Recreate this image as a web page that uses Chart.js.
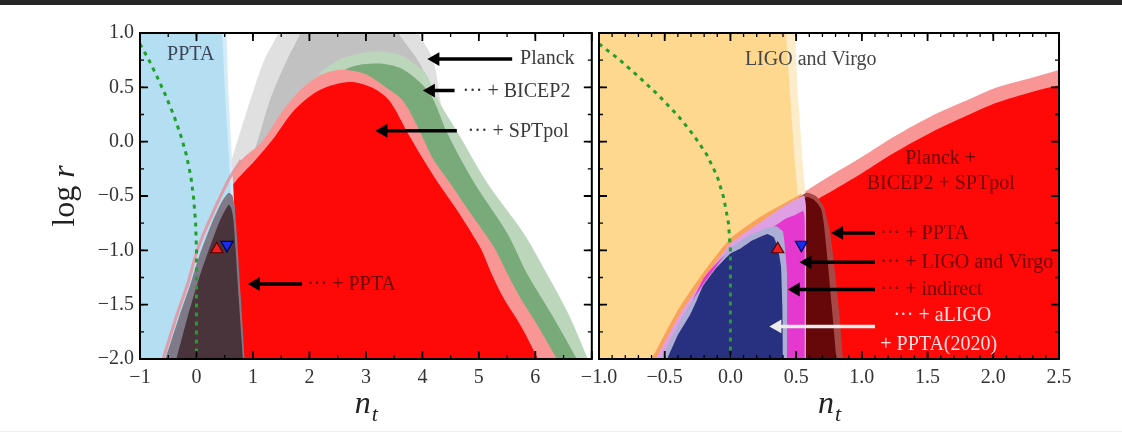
<!DOCTYPE html>
<html lang="en">
<head>
<meta charset="UTF-8">
<title>log r versus n_t</title>
<style>
  html, body { margin: 0; padding: 0; background: #fff; }
  body { position: relative; width: 1122px; height: 440px; overflow: hidden; }
  #topBar { position: absolute; left: 0; top: 0; width: 1122px; height: 5px; background: #262626; }
  #bottomRule { position: absolute; left: 0; top: 431px; width: 1122px; height: 1px; background: #ededed; }
  canvas { position: absolute; top: 0; }
  #leftPanel { left: 0; }
  #rightPanel { left: 560px; }
</style>
<script src="https://cdn.jsdelivr.net/npm/chart.js"></script>
</head>
<body>
<div id="topBar"></div>
<div id="bottomRule"></div>
<canvas id="leftPanel" width="600" height="440"></canvas>
<canvas id="rightPanel" width="562" height="440"></canvas>
<script>
const serif = '"Liberation Serif", "Times New Roman", serif';

// ---------- left panel (-1 < n_t < 7) ----------
// Planck alone (2 sigma / 1 sigma)
const grayOuterX = [-0.75, 0.2, 0.45, 0.62, 0.97, 1.2, 1.45, 1.6, 3.8, 3.93, 4.17, 4.25, 4.28, 4.35, 4.55, 5.0, 5.6, 6.3];
const grayOuterY = [-2.05, -1.0, -0.45, -0.17, 0.41, 0.75, 1.0, 1.2, 1.2, 1.0, 0.78, 0.62, 0.5, 0.3, 0.0, -0.5, -1.2, -2.05];
const grayInnerX = [-0.1, 0.5, 0.95, 1.09, 1.32, 1.6, 1.84, 1.95, 3.45, 3.58, 3.88, 4.02, 4.1, 4.4, 5.0, 5.8];
const grayInnerY = [-2.05, -0.8, -0.2, 0.02, 0.41, 0.75, 1.0, 1.2, 1.2, 1.0, 0.78, 0.65, 0.45, -0.1, -1.0, -2.05];
// + BICEP2
const greenOuterX = [0.8, 1.7, 2.19, 2.6, 3.13, 3.6, 3.9, 4.06, 4.28, 4.63, 5.15, 5.79, 6.2, 6.6, 6.97];
const greenOuterY = [-2.05, 0.3, 0.63, 0.77, 0.83, 0.8, 0.7, 0.63, 0.38, 0.08, -0.38, -0.84, -1.21, -1.6, -2.05];
const greenInnerX = [1.0, 2.3, 2.7, 3.2, 3.6, 3.95, 4.17, 4.44, 4.92, 5.5, 5.85, 6.3, 6.79];
const greenInnerY = [-2.05, 0.5, 0.68, 0.72, 0.68, 0.55, 0.41, 0.08, -0.38, -0.84, -1.21, -1.6, -2.05];
// + SPTpol
const pinkLX = [-0.62, -0.35, -0.15, 0.0, 0.2, 0.57, 0.79, 1.16, 1.55, 1.85, 2.15, 2.4, 2.66, 3.0, 3.3, 3.65, 3.97, 4.17, 4.49, 4.8, 5.1, 5.3, 5.5, 5.75, 6.05, 6.44];
const pinkLY = [-2.05, -1.6, -1.3, -1.02, -0.76, -0.35, -0.17, 0.0, 0.3, 0.48, 0.6, 0.65, 0.66, 0.62, 0.52, 0.38, 0.08, -0.14, -0.38, -0.62, -0.84, -1.0, -1.21, -1.45, -1.7, -2.05];
const redLX = [-0.5, 0.0, 0.4, 0.67, 1.04, 1.35, 1.75, 2.2, 2.71, 3.1, 3.41, 3.74, 4.0, 4.28, 4.6, 4.87, 5.05, 5.22, 5.45, 5.75, 6.1];
const redLY = [-2.05, -1.2, -0.62, -0.38, -0.17, 0.02, 0.3, 0.48, 0.55, 0.5, 0.38, 0.08, -0.15, -0.38, -0.62, -0.84, -1.0, -1.21, -1.45, -1.7, -2.05];
// PPTA pulsar-timing band
const blueRimX = [-1.1, -1.1, 0.53, 0.56, 0.63, 0.67, 0.7];
const blueRimY = [-2.05, 1.05, 1.05, 0.5, -0.2, -0.6, -2.05];
const blueX = [-1.1, -1.1, 0.45, 0.5, 0.58, 0.62, 0.66];
const blueY = [-2.05, 1.05, 1.05, 0.5, -0.2, -0.6, -2.05];
// ... + PPTA combined
const pptaOuterX = [-0.58, -0.3, -0.1, 0.05, 0.27, 0.45, 0.57, 0.64, 0.68, 0.72, 0.78, 0.86];
const pptaOuterY = [-2.05, -1.6, -1.3, -1.05, -0.75, -0.55, -0.47, -0.5, -0.62, -0.9, -1.4, -2.05];
const pptaInnerX = [-0.38, -0.15, 0.05, 0.25, 0.42, 0.57, 0.62, 0.655, 0.69, 0.75, 0.83];
const pptaInnerY = [-2.05, -1.6, -1.25, -0.95, -0.72, -0.58, -0.62, -0.72, -0.97, -1.45, -2.05];

// ---------- right panel (-1 < n_t < 2.5) ----------
const pinkRX = [-0.62, -0.4, -0.21, 0.0, 0.23, 0.51, 0.75, 1.0, 1.25, 1.52, 1.8, 2.03, 2.3, 2.5, 2.6, 2.6];
const pinkRY = [-2.05, -1.55, -1.21, -0.89, -0.69, -0.5, -0.32, -0.14, 0.05, 0.23, 0.38, 0.5, 0.59, 0.66, 0.68, -2.05];
const redRX = [-0.5, 0.0, 0.5, 0.82, 1.0, 1.25, 1.52, 1.8, 2.03, 2.3, 2.5, 2.6, 2.6];
const redRY = [-2.05, -1.1, -0.65, -0.42, -0.29, -0.1, 0.08, 0.24, 0.36, 0.46, 0.52, 0.54, -2.05];
// LIGO and Virgo band
const yellowRimX = [-1.1, -1.1, 0.49, 0.51, 0.55, 0.58, 0.6];
const yellowRimY = [-2.05, 1.05, 1.05, 0.5, -0.2, -0.6, -2.05];
const yellowX = [-1.1, -1.1, 0.42, 0.45, 0.49, 0.52, 0.55];
const yellowY = [-2.05, 1.05, 1.05, 0.5, -0.2, -0.6, -2.05];
const orangeX = [-0.62, -0.4, -0.21, 0.0, 0.23, 0.51, 0.54, 0.54];
const orangeY = [-2.05, -1.55, -1.21, -0.89, -0.69, -0.5, -0.48, -2.05];
// + PPTA
const maroonOuterX = [0.45, 0.45, 0.52, 0.58, 0.65, 0.71, 0.76, 0.8, 0.83, 0.86];
const maroonOuterY = [-2.05, -0.62, -0.52, -0.47, -0.5, -0.6, -0.85, -1.25, -1.6, -2.05];
const maroonInnerX = [0.45, 0.45, 0.52, 0.58, 0.64, 0.69, 0.71, 0.74, 0.77, 0.81];
const maroonInnerY = [-2.05, -0.68, -0.56, -0.51, -0.54, -0.62, -0.75, -1.1, -1.5, -2.05];
// + LIGO and Virgo
const magentaOuterX = [-0.59, -0.38, -0.2, 0.0, 0.23, 0.4, 0.5, 0.56, 0.575, 0.575];
const magentaOuterY = [-2.05, -1.58, -1.26, -0.94, -0.74, -0.6, -0.53, -0.5, -0.6, -2.05];
const magentaX = [-0.5, -0.21, 0.0, 0.28, 0.42, 0.5, 0.555, 0.565, 0.565];
const magentaY = [-2.05, -1.27, -1.0, -0.82, -0.71, -0.67, -0.64, -0.75, -2.05];
// + indirect
const lavenderX = [-0.55, -0.36, -0.2, 0.0, 0.15, 0.28, 0.35, 0.4, 0.43, 0.43];
const lavenderY = [-2.05, -1.6, -1.3, -0.98, -0.86, -0.79, -0.78, -0.83, -1.2, -2.05];
// + aLIGO + PPTA(2020)
const navyX = [-0.5, -0.4, -0.31, -0.26, -0.21, -0.12, 0.0, 0.08, 0.15, 0.28, 0.33, 0.36, 0.385, 0.395, 0.4];
const navyY = [-2.05, -1.78, -1.6, -1.47, -1.33, -1.18, -1.03, -0.98, -0.92, -0.85, -0.88, -0.97, -1.15, -1.5, -2.05];

// ---------- shared ----------
const dotX = [-1.0, -0.85, -0.7, -0.55, -0.4, -0.28, -0.18, -0.1, -0.05, -0.015, 0.0, 0.0];
const dotY = [0.9, 0.76, 0.6, 0.43, 0.24, 0.06, -0.12, -0.32, -0.52, -0.75, -1.0, -2.05];
const upMarker = { x: 0.36, y: -0.99 };
const downMarker = { x: 0.54, y: -0.95 };

// arrows: y, tip, tail
const leftArrowY = [0.76, 0.47, 0.10, -1.31];
const leftArrowTip = [4.10, 4.02, 3.18, 0.92];
const leftArrowTail = [5.59, 4.57, 4.61, 1.87];
const rightArrowY = [-0.84, -1.11, -1.36, -1.70];
const rightArrowTip = [0.77, 0.53, 0.44, 0.30];
const rightArrowTail = [1.10, 1.10, 1.10, 1.10];
const rightArrowColor = ['#000', '#000', '#000', '#ececec'];

// labels: x, y, text, colour, align
const leftNotes = [
  [-0.52, 0.80, 'PPTA', '#3d4656', 'left'],
  [5.73, 0.76, 'Planck', '#3a3a3a', 'left'],
  [4.71, 0.46, '\u00b7\u00b7\u00b7 + BICEP2', '#3a3a3a', 'left'],
  [4.80, 0.09, '\u00b7\u00b7\u00b7 + SPTpol', '#3a3a3a', 'left'],
  [1.96, -1.32, '\u00b7\u00b7\u00b7 + PPTA', '#6e0000', 'left']
];
const rightNotes = [
  [0.11, 0.75, 'LIGO and Virgo', '#454545', 'left'],
  [1.60, -0.16, 'Planck +', '#6e0000', 'center'],
  [1.60, -0.39, 'BICEP2 + SPTpol', '#6e0000', 'center'],
  [1.14, -0.85, '\u00b7\u00b7\u00b7 + PPTA', '#6e0000', 'left'],
  [1.14, -1.11, '\u00b7\u00b7\u00b7 + LIGO and Virgo', '#6e0000', 'left'],
  [1.14, -1.36, '\u00b7\u00b7\u00b7 + indirect', '#6e0000', 'left'],
  [1.24, -1.60, '\u00b7\u00b7\u00b7 + aLIGO', '#ffdede', 'left'],
  [1.14, -1.87, '+ PPTA(2020)', '#ffdede', 'left']
];

const fmt = s => s.replace('-', '\u2212');

function region(xs, ys, color, tension) {
  return {
    data: xs.map((x, i) => ({ x, y: ys[i] })),
    showLine: true, fill: 'shape', backgroundColor: color,
    borderColor: 'rgba(0,0,0,0)', borderWidth: 0, pointRadius: 0, tension: tension
  };
}
function curve(xs, ys, color, width, dash, tension) {
  return {
    data: xs.map((x, i) => ({ x, y: ys[i] })),
    showLine: true, fill: false, borderColor: color, borderWidth: width,
    borderDash: dash || [], borderCapStyle: 'butt', pointRadius: 0, tension: tension || 0
  };
}
function marker(p, color, edge, rotation) {
  return {
    data: [p], showLine: false, pointStyle: 'triangle', pointRadius: 7, pointRotation: rotation,
    pointBackgroundColor: color, pointBorderColor: edge, pointBorderWidth: 1.2
  };
}
function arrows(ys, tips, tails, headShift, colors) {
  return ys.map((y, i) => {
    const c = Array.isArray(colors) ? colors[i] : colors;
    return {
      data: [{ x: tails[i], y }, { x: tips[i] + headShift, y }],
      showLine: true, fill: false, borderColor: c, borderWidth: 3.5, tension: 0,
      pointRadius: [0, 8], pointStyle: 'triangle', pointRotation: -90,
      pointBackgroundColor: c, pointBorderColor: c, pointBorderWidth: 0
    };
  });
}
// first layer is drawn at the bottom
function stack(layers) {
  return layers.map((d, i) => Object.assign(d, { order: layers.length - i }));
}

const dotGreen = 'rgb(34,158,44)';

const leftData = stack([
  region(grayOuterX, grayOuterY, 'rgb(224,224,224)', 0.3),
  region(grayInnerX, grayInnerY, 'rgb(193,193,193)', 0.3),
  region(greenOuterX, greenOuterY, 'rgb(188,214,188)', 0.3),
  region(greenInnerX, greenInnerY, 'rgb(120,170,122)', 0.3),
  region(pinkLX, pinkLY, 'rgb(248,150,150)', 0.3),
  region(redLX, redLY, 'rgb(254,8,8)', 0.3),
  region(blueRimX, blueRimY, 'rgb(212,236,247)', 0),
  region(blueX, blueY, 'rgb(180,222,241)', 0),
  curve(pinkLX.slice(0, 7), pinkLY.slice(0, 7), 'rgba(226,150,160,0.9)', 3, null, 0.2),
  region(pptaOuterX, pptaOuterY, 'rgb(126,122,136)', 0.2),
  region(pptaInnerX, pptaInnerY, 'rgb(72,52,58)', 0.2),
  curve(dotX, dotY, dotGreen, 3, [4, 5]),
  marker(upMarker, 'rgb(240,30,30)', '#5a0000', 0),
  marker(downMarker, 'rgb(25,45,235)', '#000050', 180),
  ...arrows(leftArrowY, leftArrowTip, leftArrowTail, 0.13, '#000')
]);

const rightData = stack([
  region(pinkRX, pinkRY, 'rgb(248,150,150)', 0.3),
  region(redRX, redRY, 'rgb(254,8,8)', 0.3),
  region(yellowRimX, yellowRimY, 'rgb(253,236,202)', 0),
  region(yellowX, yellowY, 'rgb(253,216,142)', 0),
  region(orangeX, orangeY, 'rgb(250,163,88)', 0.2),
  region(maroonOuterX, maroonOuterY, 'rgb(168,72,70)', 0.2),
  region(maroonInnerX, maroonInnerY, 'rgb(102,8,10)', 0.2),
  region(magentaOuterX, magentaOuterY, 'rgb(222,160,226)', 0.2),
  region(magentaX, magentaY, 'rgb(228,56,206)', 0.2),
  region(lavenderX, lavenderY, 'rgb(172,174,214)', 0.15),
  region(navyX, navyY, 'rgb(40,48,128)', 0.1),
  curve(dotX, dotY, dotGreen, 3, [4, 5]),
  marker(upMarker, 'rgb(240,30,30)', '#5a0000', 0),
  marker(downMarker, 'rgb(25,45,235)', '#000050', 180),
  ...arrows(rightArrowY, rightArrowTip, rightArrowTail, 0.057, rightArrowColor)
]);

// frame, inward ticks, labels and axis titles
const panelDecor = {
  id: 'panelDecor',
  afterDraw(chart, args, opts) {
    const { ctx, chartArea: a } = chart;
    const xs = chart.scales.x, ys = chart.scales.y;
    ctx.save();
    ctx.strokeStyle = '#000';
    const marks = (scale, step, len, width, alongX) => {
      ctx.lineWidth = width;
      ctx.beginPath();
      const n = Math.round((scale.max - scale.min) / step);
      for (let i = 0; i <= n; i++) {
        const p = scale.getPixelForValue(scale.min + i * step);
        if (alongX) {
          ctx.moveTo(p, a.bottom); ctx.lineTo(p, a.bottom - len);
          ctx.moveTo(p, a.top); ctx.lineTo(p, a.top + len);
        } else {
          ctx.moveTo(a.left, p); ctx.lineTo(a.left + len, p);
          ctx.moveTo(a.right, p); ctx.lineTo(a.right - len, p);
        }
      }
      ctx.stroke();
    };
    marks(xs, opts.xMinor, 4, 1.3, true);
    marks(xs, opts.xMajor, 8, 1.8, true);
    marks(ys, 0.25, 4, 1.3, false);
    marks(ys, 0.5, 8, 1.8, false);
    ctx.lineWidth = 2;
    ctx.strokeRect(a.left, a.top, a.right - a.left, a.bottom - a.top);

    ctx.font = '20px ' + serif;
    ctx.textBaseline = 'middle';
    for (const [nx, ny, text, color, align] of opts.notes) {
      ctx.fillStyle = color;
      ctx.textAlign = align;
      ctx.fillText(text, xs.getPixelForValue(nx), ys.getPixelForValue(ny));
    }

    // n_t
    ctx.fillStyle = '#222';
    ctx.textAlign = 'left';
    ctx.textBaseline = 'alphabetic';
    ctx.font = 'italic 32px ' + serif;
    const wn = ctx.measureText('n').width;
    ctx.font = 'italic 22px ' + serif;
    const wt = ctx.measureText('t').width;
    const x0 = (a.left + a.right) / 2 - (wn + wt) / 2;
    ctx.font = 'italic 32px ' + serif;
    ctx.fillText('n', x0, 413);
    ctx.font = 'italic 22px ' + serif;
    ctx.fillText('t', x0 + wn + 1, 421);

    // log r
    if (opts.yTitle) {
      ctx.translate(66, (a.top + a.bottom) / 2);
      ctx.rotate(-Math.PI / 2);
      ctx.textBaseline = 'middle';
      ctx.font = '32px ' + serif;
      const wl = ctx.measureText('log ').width;
      ctx.font = 'italic 32px ' + serif;
      const wr = ctx.measureText('r').width;
      const s = -(wl + wr) / 2;
      ctx.font = '32px ' + serif;
      ctx.fillText('log ', s, 0);
      ctx.font = 'italic 32px ' + serif;
      ctx.fillText('r', s + wl, 0);
    }
    ctx.restore();
  }
};

function panelOptions(p) {
  const tickFont = { family: serif, size: 20 };
  return {
    responsive: false,
    animation: false,
    events: [],
    layout: { padding: { left: p.padLeft, right: p.padRight, top: 33, bottom: 0 } },
    plugins: { legend: { display: false }, tooltip: { enabled: false }, panelDecor: p.decor },
    scales: {
      x: {
        type: 'linear', min: p.xMin, max: p.xMax,
        ticks: { stepSize: p.xStep, callback: p.xFormat, color: '#333', font: tickFont, padding: 7, maxRotation: 0, autoSkip: false },
        grid: { display: false, drawTicks: false },
        border: { display: false },
        afterFit: s => { s.height = 81; }
      },
      y: {
        type: 'linear', min: -2, max: 1,
        ticks: { display: p.yLabels, stepSize: 0.5, callback: v => fmt(v.toFixed(1)), color: '#333', font: tickFont, padding: 6 },
        grid: { display: false, drawTicks: false },
        border: { display: false },
        afterFit: s => { s.width = p.yWidth; }
      }
    }
  };
}

new Chart(document.getElementById('leftPanel'), {
  type: 'scatter',
  data: { datasets: leftData },
  options: panelOptions({
    padLeft: 0, padRight: 1, yWidth: 140, yLabels: true,
    xMin: -1, xMax: 7, xStep: 1,
    xFormat: v => (v === 7 ? '' : fmt(String(v))),
    decor: { xMajor: 1, xMinor: 0.5, notes: leftNotes, yTitle: true }
  }),
  plugins: [panelDecor]
});

new Chart(document.getElementById('rightPanel'), {
  type: 'scatter',
  data: { datasets: rightData },
  options: panelOptions({
    padLeft: 39, padRight: 63, yWidth: 0, yLabels: false,
    xMin: -1, xMax: 2.5, xStep: 0.5,
    xFormat: v => fmt(v.toFixed(1)),
    decor: { xMajor: 0.5, xMinor: 0.1, notes: rightNotes, yTitle: false }
  }),
  plugins: [panelDecor]
});
</script>
</body>
</html>
